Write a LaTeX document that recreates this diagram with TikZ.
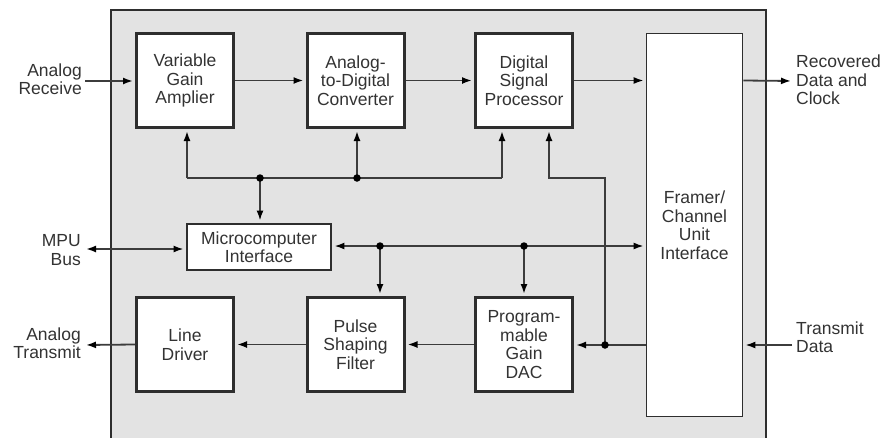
\documentclass[tikz,border=0pt]{standalone}
\usepackage{fontspec}
\setmainfont{Liberation Sans}
\usetikzlibrary{arrows.meta,calc}
\definecolor{ln}{HTML}{2E2E2E}
\definecolor{cn}{HTML}{3C3C3C}
\definecolor{bg}{HTML}{E3E3E3}
\definecolor{tx}{HTML}{333333}
\begin{document}
\begin{tikzpicture}[x=1pt,y=-1pt,
  blk/.style={draw=ln,line width=3pt,fill=white,minimum width=97pt,minimum height=94pt,inner sep=0pt,align=center,text=tx,font=\fontsize{17.5}{18.5}\selectfont},
  lbl/.style={inner sep=0pt,text=tx,font=\fontsize{17.5}{18.5}\selectfont},
  conn/.style={draw=cn,line width=1.8pt},
  tip/.tip={Latex[length=10pt,width=7pt,color=black]},
  arr/.style={conn,-tip,shorten >=2pt},
  barr/.style={conn,tip-tip,shorten >=2pt,shorten <=2pt},
  dot/.style={circle,fill=black,inner sep=0pt,minimum size=7.5pt}]
\useasboundingbox (0,0) rectangle (885,437);
\fill[white] (0,0) rectangle (885,437);
\begin{scope}
\clip (0,0) rectangle (885,437);
\draw[draw=ln,line width=1.5pt,fill=bg] (111,10) rectangle (766,450);
\end{scope}
% blocks
\node[blk] (vga) at (185,80.5) {Variable\\Gain\\Amplier};
\node[blk] (adc) at (355.5,80.5) {Analog-\\to-Digital\\Converter};
\node[blk] (dsp) at (524,80.5) {Digital\\Signal\\Processor};
\node[blk,line width=1.7pt,minimum width=96pt,minimum height=383pt] (fr) at (694.5,225) {Framer/\\Channel\\Unit\\Interface};
\node[blk,line width=2.8pt,minimum width=144pt,minimum height=46pt] (mi) at (259,247) {Microcomputer\\Interface};
\node[blk] (ld) at (185,344.5) {Line\\Driver};
\node[blk] (psf) at (355.5,344.5) {Pulse\\Shaping\\Filter};
\node[blk] (dac) at (524,344.5) {Program-\\mable\\Gain\\DAC};
% external labels
\node[lbl,align=right,anchor=east] (tar) at (82,79) {Analog\\Receive};
\node[lbl,align=right,anchor=east] (tmpu) at (81,250) {MPU\\Bus};
\node[lbl,align=right,anchor=east] (tat) at (81,343) {Analog\\Transmit};
\node[lbl,align=left,anchor=west] (trec) at (796,80) {Recovered\\Data and\\Clock};
\node[lbl,align=left,anchor=west] (ttd) at (796,337) {Transmit\\Data};
% coordinates
\coordinate (arIn) at (85,81);
\coordinate (recOut) at (793,81);
\coordinate (mpu) at (84,249);
\coordinate (atOut) at (84,345);
\coordinate (tdIn) at (792,345);
\coordinate (b1) at (260,178);
\coordinate (b2) at (357,178);
\coordinate (b0) at (187,178);
\coordinate (b3) at (502,178);
\coordinate (d2) at (549,178);
\coordinate (j) at (605,345);
\coordinate (c1) at (380,246);
\coordinate (c2) at (524,246);
% receive path
\draw[arr] (arIn) -- (arIn -| vga.west);
\draw[arr] (vga.east) -- (adc.west);
\draw[arr] (adc.east) -- (dsp.west);
\draw[arr] (dsp.east) -- (dsp.east -| fr.west);
\draw[arr] (dsp.east -| fr.east) -- (recOut);
% control bus
\draw[conn] (b0) -- (b3);
\draw[arr] (b0) -- (b0 |- vga.south);
\draw[arr] (b1) -- (b1 |- mi.north);
\draw[arr] (b2) -- (b2 |- adc.south);
\draw[arr] (b3) -- (b3 |- dsp.south);
\draw[arr] (j) |- (d2) -- (d2 |- dsp.south);
% MPU bus
\draw[barr] (mpu) -- (mpu -| mi.west);
\draw[barr] (c1 -| mi.east) -- (c1 -| fr.west);
\draw[arr] (c1) -- (c1 |- psf.north);
\draw[arr] (c2) -- (c2 |- dac.north);
% transmit path
\draw[arr] (tdIn) -- (tdIn -| fr.east);
\draw[arr] (j -| fr.west) -- (j -| dac.east);
\draw[arr] (dac.west) -- (psf.east);
\draw[arr] (psf.west) -- (ld.east);
\draw[arr] (ld.west) -- (atOut);
% dots
\node[dot] at (b1) {};
\node[dot] at (b2) {};
\node[dot] at (j) {};
\node[dot] at (c1) {};
\node[dot] at (c2) {};
\end{tikzpicture}
\end{document}
